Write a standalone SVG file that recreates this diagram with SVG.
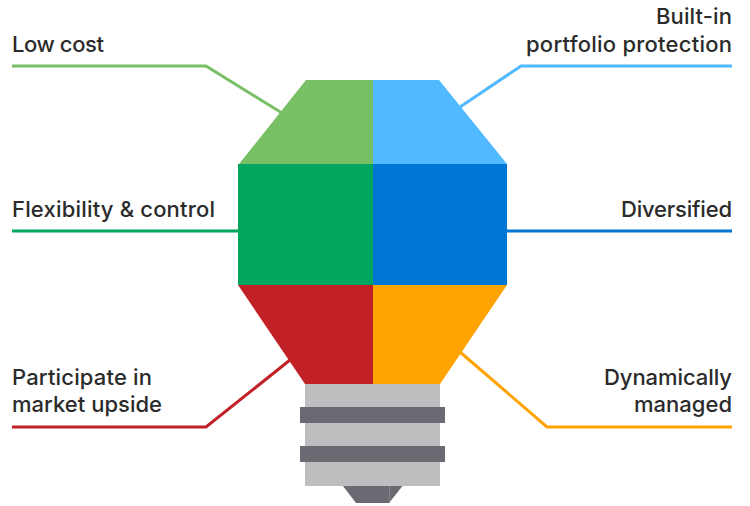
<svg xmlns="http://www.w3.org/2000/svg" width="750" height="506" viewBox="0 0 750 506">
<style>
text{font-family:"Inter","Liberation Sans",sans-serif;font-size:22px;font-weight:500;fill:#2b2b2b;lengthAdjust:spacing}
.r{text-anchor:end}
.c{fill:none;stroke-width:3}
</style>
<rect width="750" height="506" fill="#fff"/>
<g id="connectors">
<polyline class="c" stroke="#78c066" points="12,66 206,66 282,113"/>
<polyline class="c" stroke="#50b9ff" points="732,66 521,66 460,107"/>
<polyline class="c" stroke="#03a65f" points="12,231 238,231"/>
<polyline class="c" stroke="#0077d4" points="507,231 732,231"/>
<polyline class="c" stroke="#c12126" points="12,427 206,427 290,360"/>
<polyline class="c" stroke="#ffa300" points="732,427 547,427 460,352"/>
</g>
<g id="bulb-base">
<rect x="305" y="384" width="135" height="102" fill="#bfbdbf"/>
<rect x="300" y="407" width="145" height="16" fill="#6a6a72"/>
<rect x="300" y="446" width="145" height="16" fill="#6a6a72"/>
<polygon points="343,486 402.500,486 389,503 356,503" fill="#6a6a72"/>
<line x1="389.500" y1="486" x2="389.500" y2="503" stroke="#85858b" stroke-width="1"/>
</g>
<g id="node-low-cost"><polygon points="306,80 373,80 373,164 239,164" fill="#78c066"/><text x="12" y="52" textLength="92">Low cost</text></g>
<g id="node-protection"><polygon points="373,80 439,80 507,164 373,164" fill="#50b9ff"/><text class="r" x="732" y="24" textLength="76">Built-in</text><text class="r" x="732" y="52" textLength="206">portfolio protection</text></g>
<g id="node-flexibility"><rect x="238" y="164" width="135" height="121" fill="#03a65f"/><text x="12" y="217" textLength="203">Flexibility &amp; control</text></g>
<g id="node-diversified"><rect x="373" y="164" width="134" height="121" fill="#0077d4"/><text class="r" x="732" y="217" textLength="111">Diversified</text></g>
<g id="node-upside"><polygon points="238,285 373,285 373,384 305,384" fill="#c12126"/><text x="12" y="385" textLength="140">Participate in</text><text x="12" y="412" textLength="150">market upside</text></g>
<g id="node-managed"><polygon points="373,285 507,285 440,384 373,384" fill="#ffa300"/><text class="r" x="732" y="385" textLength="128">Dynamically</text><text class="r" x="732" y="412" textLength="98">managed</text></g>
</svg>
